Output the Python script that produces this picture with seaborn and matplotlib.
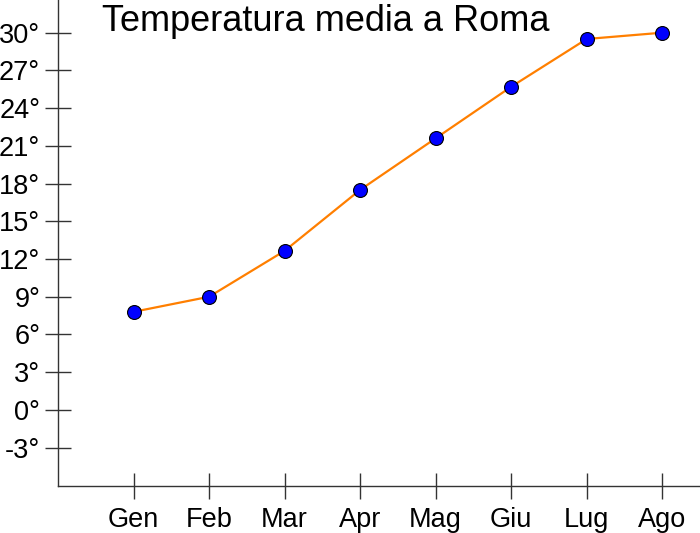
import pandas as pd
import matplotlib
matplotlib.use("Agg")
import matplotlib.pyplot as plt
import seaborn as sns

mesi = ["Gen", "Feb", "Mar", "Apr", "Mag", "Giu", "Lug", "Ago"]
temperature = [7.8, 9.0, 12.65, 17.5, 21.6, 25.7, 29.5, 30.0]
y_ticks = [-3, 0, 3, 6, 9, 12, 15, 18, 21, 24, 27, 30]
y_labels = [f"{v}°" for v in y_ticks]

df = pd.DataFrame({"mese": mesi, "temp": temperature})

sns.set_style("white")
plt.rcParams["font.family"] = ["Liberation Sans", "DejaVu Sans"]

fig = plt.figure(figsize=(7, 5.33), dpi=100)
ax = fig.add_axes([58 / 700, 47 / 533, 1 - 58 / 700, 1 - 47 / 533])

sns.lineplot(data=df, x="mese", y="temp", sort=False, ax=ax,
             color="#ff7f00", linewidth=1.6, marker="o", markersize=10,
             markerfacecolor="#0000ff", markeredgecolor="black",
             markeredgewidth=0.8)

ax.set_xlim(-1, 7.5)
ax.set_ylim(-6.05, 32.6)
ax.set_yticks(y_ticks)
ax.set_yticklabels(y_labels)
ax.set_xlabel("")
ax.set_ylabel("")

for side in ["top", "right"]:
    ax.spines[side].set_visible(False)
for side in ["left", "bottom"]:
    ax.spines[side].set_color("#333333")
    ax.spines[side].set_linewidth(1.0)

ax.tick_params(axis="both", bottom=True, left=True, direction="inout",
               length=18.7, width=1.0, color="#333333", labelsize=19.5,
               labelcolor="black")
ax.tick_params(axis="y", pad=3.5)
ax.tick_params(axis="x", pad=6)

fig.text(102 / 700, 1 - 31 / 533, "Temperatura media a Roma",
         fontsize=26, color="black", ha="left", va="baseline")

fig.savefig("out.png", dpi=100)
